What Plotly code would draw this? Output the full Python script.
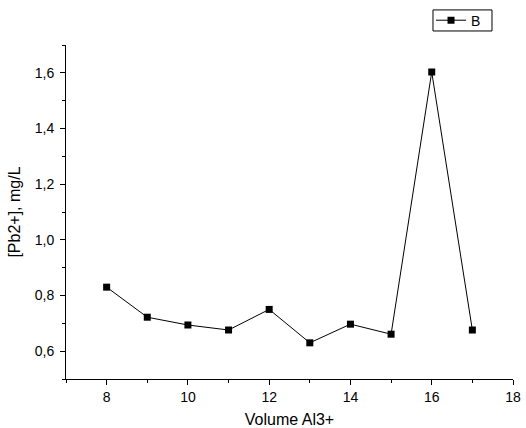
import plotly.graph_objects as go

volume = [8, 9, 10, 11, 12, 13, 14, 15, 16, 17]
pb = [0.830, 0.722, 0.694, 0.676, 0.750, 0.630, 0.697, 0.661, 1.603, 0.676]

fig = go.Figure()
fig.add_trace(go.Scatter(
    x=volume, y=pb, mode="lines+markers", name="B",
    line=dict(color="black", width=1),
    marker=dict(symbol="square", size=7, color="black"),
))

font = dict(family="Liberation Sans, Arial, sans-serif", color="black")
fig.update_layout(
    width=526, height=428,
    margin=dict(l=66, r=13, t=45, b=49, autoexpand=False),
    paper_bgcolor="white", plot_bgcolor="white",
    separators=", ",
    font=dict(size=14, **font),
    showlegend=True,
    legend=dict(x=0.8166, y=1.073, xanchor="left", yanchor="middle",
                borderwidth=0, font=dict(size=14),
                itemwidth=30, tracegroupgap=0,
                bgcolor="rgba(255,255,255,0)"),
)
# legend frame
fig.add_shape(type="rect", xref="paper", yref="paper",
              x0=0.821, x1=0.953, y0=1.042, y1=1.105,
              line=dict(color="black", width=1), fillcolor="rgba(0,0,0,0)")
fig.update_xaxes(
    range=[7, 18], tick0=0, dtick=2, showgrid=False, zeroline=False,
    showline=True, linecolor="black", linewidth=1,
    ticks="outside", ticklen=5, tickcolor="black",
    minor=dict(dtick=1, ticks="outside", ticklen=3, tickcolor="black"),
    automargin=False,
    title=dict(text="Volume Al3+", font=dict(size=16), standoff=10),
)
fig.update_yaxes(
    range=[0.5, 1.7], tick0=0, dtick=0.2, tickformat=".1f", showgrid=False, zeroline=False,
    showline=True, linecolor="black", linewidth=1,
    ticks="outside", ticklen=5, tickcolor="black", ticklabelstandoff=3,
    minor=dict(dtick=0.1, ticks="outside", ticklen=3, tickcolor="black"),
    automargin=False,
    title=dict(text="[Pb2+], mg/L", font=dict(size=16), standoff=10),
)
fig.write_html("out.html", config={"displayModeBar": False},
               post_script="document.body.style.margin='0';document.body.style.overflow='hidden';")
